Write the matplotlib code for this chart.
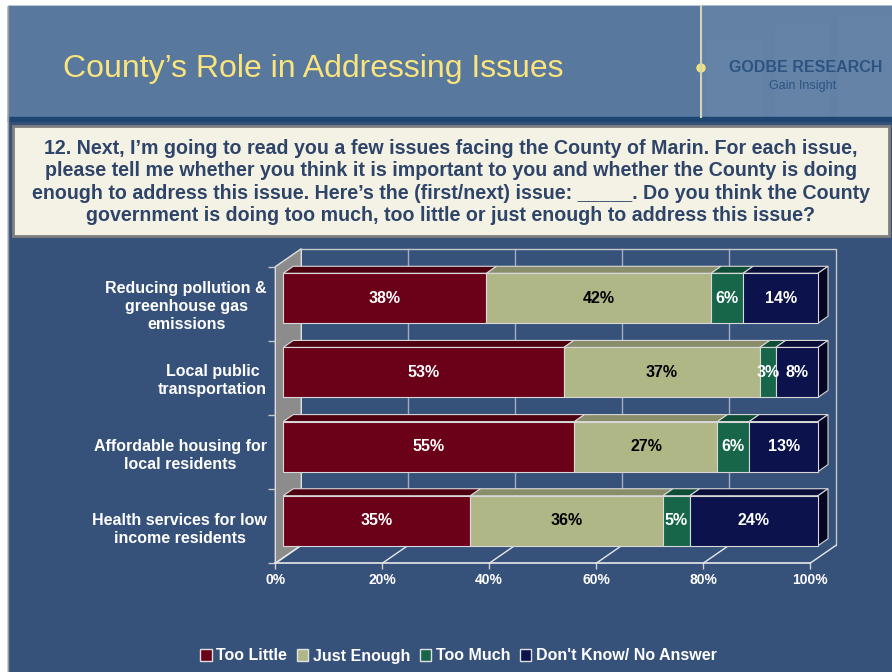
import matplotlib
matplotlib.use("Agg")
import matplotlib.pyplot as plt
from matplotlib.patches import Rectangle, Circle, Patch
import numpy as np

plt.rcParams['font.family'] = ['Liberation Sans', 'DejaVu Sans']

# data
categories = ["Reducing pollution &\ngreenhouse gas\nemissions",
              "Local public\ntransportation",
              "Affordable housing for\nlocal residents",
              "Health services for low\nincome residents"]
series = ["Too Little", "Just Enough", "Too Much", "Don't Know/ No Answer"]
too_little = [38, 53, 55, 35]
just_enough = [42, 37, 27, 36]
too_much = [6, 3, 6, 5]
dont_know = [14, 8, 13, 24]
x_ticks = [0, 20, 40, 60, 80, 100]

title = "County\u2019s Role in Addressing Issues"
question = ("12. Next, I\u2019m going to read you a few issues facing the County of Marin. For each issue,\n"
            "please tell me whether you think it is important to you and whether the County is doing\n"
            "enough to address this issue. Here\u2019s the (first/next) issue: _____. Do you think the County\n"
            "government is doing too much, too little or just enough to address this issue?")

front_cols = ['#6b0019', '#b0b787', '#17664a', '#0b124c']
top_cols = ['#4e0010', '#8a8d69', '#0f4d36', '#080e38']
side_col = '#050722'
label_cols = ['white', 'black', 'white', 'white']
edge = '#d8d8d8'

W, H = 892, 672
fig = plt.figure(figsize=(W / 100, H / 100), dpi=100)

# slide background, pixel coordinates
bg = fig.add_axes([0, 0, 1, 1])
bg.set_xlim(0, W)
bg.set_ylim(H, 0)
bg.axis('off')
bg.add_patch(Rectangle((0, 0), W, H, color='white'))
bg.add_patch(Rectangle((8, 6), W - 8, H - 6, color='#36517a'))
bg.add_patch(Rectangle((8, 6), W - 8, 111, color='#58789e'))
bg.add_patch(Rectangle((701, 6), W - 701, 111, color='#6281a5'))
for rx, ry, rw in [(707, 40, 56), (775, 25, 55), (838, 15, 54)]:
    bg.add_patch(Rectangle((rx, ry), rw, 117 - ry, color='#7590b0', alpha=0.15, lw=0))
bg.add_patch(Rectangle((8, 117), W - 8, 4, color='#1e4673'))
bg.plot([8, 8], [6, H], color='#9a9a9a', lw=1)
bg.plot([701, 701], [6, 117], color='#d4d2b8', lw=1.5)
bg.add_patch(Circle((701, 68), 4, color='#f2e27a'))
bg.text(63, 69, title, color='#fbe47c', fontsize=23, va='center', ha='left')
bg.text(806, 68, "GODBE RESEARCH", color='#2b5483', fontsize=11.5, fontweight='bold',
        ha='center', va='center')
bg.text(803, 86, "Gain Insight", color='#2b5483', fontsize=9, ha='center', va='center')

bg.add_patch(Rectangle((13, 126), 876, 110, facecolor='#f3f2e5', edgecolor='#7f7f7f', lw=2))
bg.text(451, 182, question, color='#2e4468', fontsize=14.1, fontweight='bold',
        ha='center', va='center', multialignment='center', linespacing=1.22)

# chart axes: front plane of the floor
x0, x1 = 275.3, 810.0
yt, yb = 266.7, 563.3
ax = fig.add_axes([x0 / W, 1 - yb / H, (x1 - x0) / W, (yb - yt) / H])
ax.set_xlim(0, 100)
ax.set_ylim(3.5, -0.5)
ax.patch.set_alpha(0)
for s in ax.spines.values():
    s.set_visible(False)

fx = 100 / (x1 - x0)
fy = 4 / (yb - yt)


def shift(px, py):
    return px * fx, -py * fy


wdx, wdy = shift(26, 18)   # full depth
fdx, fdy = shift(8, 5.5)   # bar front face
ddx, ddy = shift(10, 7)    # bar depth

y_lo, y_hi = -0.5, 3.5
# left wall
ax.fill([0, 0, wdx, wdx], [y_hi, y_lo, y_lo + wdy, y_hi + wdy],
        facecolor='#8c8c8c', edgecolor='#e0e0e0', lw=1, zorder=1, clip_on=False)
# back wall grid and outline
for t in x_ticks[1:-1]:
    ax.plot([t + wdx, t + wdx], [y_lo + wdy, y_hi + wdy], color='#a3adc0', lw=1, zorder=1, clip_on=False)
ax.plot([wdx, 100 + wdx, 100 + wdx], [y_lo + wdy, y_lo + wdy, y_hi + wdy],
        color='#c8c8c8', lw=1, zorder=1, clip_on=False)
# floor
ax.plot([0, 100], [y_hi, y_hi], color='#e8e8e8', lw=1.2, zorder=2, clip_on=False)
for t in x_ticks:
    ax.plot([t, t + wdx], [y_hi, y_hi + wdy], color='#e8e8e8', lw=1, zorder=2, clip_on=False)

# stacked 3d bars
values = np.array([too_little, just_enough, too_much, dont_know], dtype=float)
shares = values / values.sum(axis=0) * 100
ypos = np.arange(len(categories))
bar_h = 0.674
lefts = np.zeros(len(categories))
for k in range(len(series)):
    z = 3 + k
    for i in ypos:
        l = lefts[i] + fdx
        r = l + shares[k, i]
        top = i + fdy - bar_h / 2
        bot = i + fdy + bar_h / 2
        ax.fill([l, r, r + ddx, l + ddx], [top, top, top + ddy, top + ddy],
                facecolor=top_cols[k], edgecolor=edge, lw=0.8, zorder=z, clip_on=False)
        if k == len(series) - 1:
            ax.fill([r, r, r + ddx, r + ddx], [top, bot, bot + ddy, top + ddy],
                    facecolor=side_col, edgecolor=edge, lw=0.8, zorder=z, clip_on=False)
    ax.barh(ypos + fdy, shares[k], left=lefts + fdx, height=bar_h, color=front_cols[k],
            edgecolor=edge, lw=0.8, zorder=z + 0.5, clip_on=False)
    for i in ypos:
        ax.text(lefts[i] + fdx + shares[k, i] / 2, i + fdy, f"{int(values[k, i])}%",
                color=label_cols[k], fontsize=11.5, fontweight='bold',
                ha='center', va='center', zorder=10)
    lefts += shares[k]

# axes ticks and labels
ax.set_xticks(x_ticks, [f"{t}%" for t in x_ticks], fontweight='bold')
ax.tick_params(axis='x', length=4, width=1, color='#d0d0d0', labelcolor='white',
               labelsize=10, pad=3)
ax.set_yticks(ypos, categories, fontweight='bold', multialignment='center', linespacing=1.25)
ax.tick_params(axis='y', which='major', length=0, pad=6, labelcolor='white', labelsize=11.5)
ax.set_yticks(np.arange(-0.5, 4, 1), minor=True)
ax.tick_params(axis='y', which='minor', length=5, width=1, color='#c8c8c8')

handles = [Patch(facecolor=c, edgecolor='#e0e0e0', lw=1) for c in front_cols]
fig.legend(handles, series, loc='center', bbox_to_anchor=(458.5 / W, 1 - 656 / H), ncol=4,
           frameon=False, handlelength=0.7, handleheight=0.7, handletextpad=0.3,
           columnspacing=0.6, prop={'weight': 'bold', 'size': 11.5}, labelcolor='white')

fig.savefig('out.png', dpi=100)
